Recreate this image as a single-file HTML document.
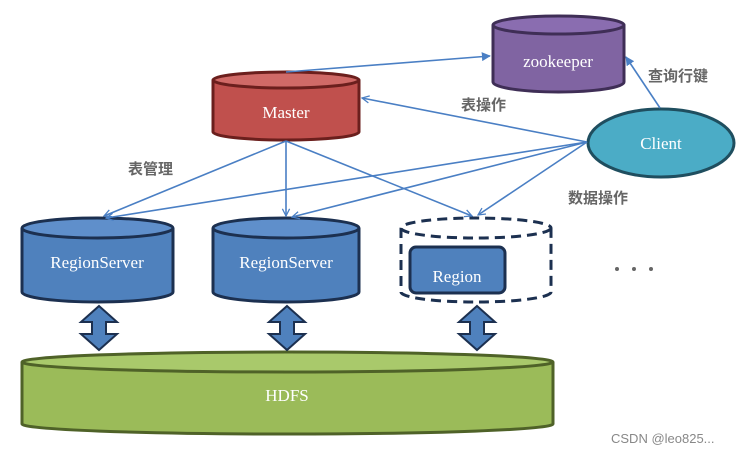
<!DOCTYPE html>
<html><head><meta charset="utf-8"><style>
html,body{margin:0;padding:0;background:#fff;}
svg{display:block;}
.t{font-family:"Liberation Serif",serif;fill:#fff;text-anchor:middle;}
.c{font-family:"Liberation Sans","Noto Sans CJK SC",sans-serif;fill:#666;font-size:15px;font-weight:bold;}
</style></head><body>
<svg width="742" height="452" viewBox="0 0 742 452" xmlns="http://www.w3.org/2000/svg">
<defs>
<marker id="a" viewBox="0 0 10 10" refX="9" refY="5" markerWidth="9" markerHeight="9" orient="auto" markerUnits="userSpaceOnUse">
<path d="M1,1 L9,5 L1,9" fill="none" stroke="#4a7fc4" stroke-width="1.4"/></marker>
<marker id="f" viewBox="0 0 10 10" refX="9" refY="5" markerWidth="9" markerHeight="9" orient="auto" markerUnits="userSpaceOnUse">
<path d="M0,0 L10,5 L0,10 z" fill="#4a7fc4"/></marker>
</defs>
<!-- HDFS -->
<path d="M22,362 L22,424 A265,10 0 0 0 553,424 L553,362" fill="#9bbb59" stroke="#4f6228" stroke-width="3"/>
<ellipse cx="287.5" cy="362" rx="265.5" ry="10" fill="#a9c96b" stroke="#4f6228" stroke-width="3"/>
<text class="t" x="287" y="401" font-size="17">HDFS</text>
<!-- zookeeper -->
<path d="M493,25 L493,82 A65.5,10 0 0 0 624,82 L624,25" fill="#8064a2" stroke="#3f2e56" stroke-width="3"/>
<ellipse cx="558.5" cy="25" rx="65.5" ry="9" fill="#8a6db0" stroke="#3f2e56" stroke-width="3"/>
<text class="t" x="558" y="67" font-size="17">zookeeper</text>
<!-- Master -->
<path d="M213,80 L213,132 A73,8 0 0 0 359,132 L359,80" fill="#c0504d" stroke="#6b1f1d" stroke-width="3"/>
<ellipse cx="286" cy="80" rx="73" ry="8" fill="#d06a67" stroke="#6b1f1d" stroke-width="3"/>
<text class="t" x="286" y="118" font-size="17">Master</text>
<!-- Client -->
<ellipse cx="661" cy="143" rx="73" ry="34" fill="#4bacc6" stroke="#1f4e5f" stroke-width="3"/>
<text class="t" x="661" y="149" font-size="17">Client</text>
<!-- RegionServers -->
<path d="M22,228 L22,292 A75.5,10 0 0 0 173,292 L173,228" fill="#4f81bd" stroke="#1c3050" stroke-width="3"/>
<ellipse cx="97.5" cy="228" rx="75.5" ry="10" fill="#5f8fcb" stroke="#1c3050" stroke-width="3"/>
<text class="t" x="97" y="268" font-size="17">RegionServer</text>
<path d="M213,228 L213,292 A73,10 0 0 0 359,292 L359,228" fill="#4f81bd" stroke="#1c3050" stroke-width="3"/>
<ellipse cx="286" cy="228" rx="73" ry="10" fill="#5f8fcb" stroke="#1c3050" stroke-width="3"/>
<text class="t" x="286" y="268" font-size="17">RegionServer</text>
<!-- dashed -->
<g fill="none" stroke="#1c3050" stroke-width="3" stroke-dasharray="10,6">
<path d="M401,228 L401,292 A75,10 0 0 0 551,292 L551,228"/>
<ellipse cx="476" cy="228" rx="75" ry="10"/>
</g>
<rect x="410" y="247" width="95" height="46" rx="6" fill="#4f81bd" stroke="#1c3050" stroke-width="3"/>
<text class="t" x="457" y="282" font-size="17">Region</text>
<!-- dots -->
<circle cx="617" cy="269" r="2" fill="#666"/><circle cx="634" cy="269" r="2" fill="#666"/><circle cx="651" cy="269" r="2" fill="#666"/>
<!-- double arrows -->
<g fill="#4f81bd" stroke="#1c3050" stroke-width="2">
<path id="da" d="M99,306 L117,322 L106,322 L106,334 L117,334 L99,350 L81,334 L92,334 L92,322 L81,322 Z"/>
<use href="#da" x="188"/>
<use href="#da" x="378"/>
</g>
<!-- connectors -->
<g stroke="#4a7fc4" stroke-width="1.6" fill="none" marker-end="url(#a)">
<line x1="286" y1="141" x2="104" y2="216"/>
<line x1="286" y1="141" x2="286" y2="216"/>
<line x1="286" y1="141" x2="472" y2="216"/>
<line x1="587" y1="142" x2="362" y2="98"/>
<line x1="587" y1="142" x2="106" y2="218"/>
<line x1="587" y1="142" x2="292" y2="217"/>
<line x1="587" y1="142" x2="478" y2="215"/>
</g>
<g stroke="#4a7fc4" stroke-width="1.6" fill="none" marker-end="url(#f)">
<line x1="286" y1="72" x2="490" y2="56"/>
<line x1="660" y1="108" x2="626" y2="57"/>
</g>
<!-- labels -->
<text class="c" x="128" y="174">表管理</text>
<text class="c" x="461" y="110">表操作</text>
<text class="c" x="648" y="81">查询行键</text>
<text class="c" x="568" y="203">数据操作</text>
<text x="611" y="443" font-family="Liberation Sans,sans-serif" font-size="13" fill="#888">CSDN @leo825...</text>
</svg>
</body></html>
